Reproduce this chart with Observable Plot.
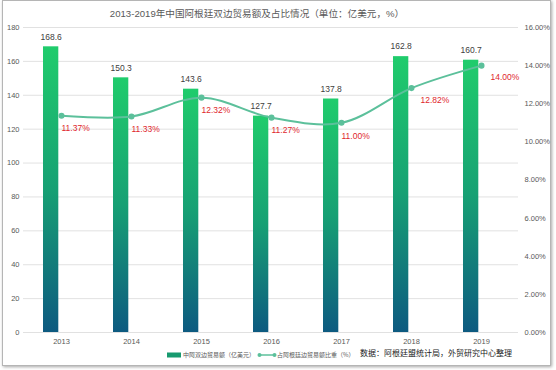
<!DOCTYPE html>
<html>
<head>
<meta charset="utf-8">
<script src="https://cdn.jsdelivr.net/npm/d3@7"></script>
<script src="https://cdn.jsdelivr.net/npm/@observablehq/plot@0.6"></script>
<style>
  html, body { margin: 0; padding: 0; background: #fff; }
  body { width: 556px; height: 370px; position: relative; overflow: hidden;
         font-family: "Liberation Sans", "Noto Sans CJK SC", sans-serif; }
  #frame { position: absolute; left: 2px; top: 0px; width: 547px; height: 364px;
           border: 1px solid #b5b5b5; box-shadow: 1px 1px 3px rgba(0,0,0,0.35); }
  #title { position: absolute; left: 0; top: 6px; width: 514px; text-align: center;
           font-size: 9.6px; color: #595959; font-family: "Liberation Sans", "Noto Sans CJK SC", sans-serif; }
  #chart { position: absolute; left: 0; top: 0; }
  #legend { position: absolute; top: 350px; left: 167px; font-size: 6px; color: #595959;
            display: flex; align-items: center; white-space: nowrap;
            font-family: "Noto Sans CJK SC", sans-serif; }
  #legend .item { display: flex; align-items: center; margin-right: 2px; }
  #source { position: absolute; top: 347px; left: 360px; font-size: 8px; color: #1a1a1a;
            font-weight: 400; font-family: "Noto Sans CJK SC", sans-serif; white-space: nowrap; }
</style>
</head>
<body>
<div id="frame"></div>
<div id="chart"></div>
<div id="title">2013-2019年中国阿根廷双边贸易额及占比情况（单位：亿美元，%）</div>
<div id="legend">
  <span class="item"><svg width="16" height="6"><rect x="0" y="0.5" width="14" height="5" fill="#179a6f"></rect></svg><span>中阿双边贸易额（亿美元）</span></span>
  <span class="item"><svg width="20" height="6"><line x1="2" y1="3" x2="18" y2="3" stroke="#5cc09b" stroke-width="1.5"></line><circle cx="2.5" cy="3" r="2" fill="#5cc09b"></circle><circle cx="17.5" cy="3" r="2" fill="#5cc09b"></circle></svg><span>占阿根廷边贸易额比重（%）</span></span>
</div>
<div id="source">数据：阿根廷盟统计局，外贸研究中心整理</div>
<script>
const years = ["2013", "2014", "2015", "2016", "2017", "2018", "2019"];
const tradeValues = [168.6, 150.3, 143.6, 127.7, 137.8, 162.8, 160.7];
const sharePct = [11.37, 11.33, 12.32, 11.27, 11.00, 12.82, 14.00];
const leftTicks = [0, 20, 40, 60, 80, 100, 120, 140, 160, 180];
const rightTicks = [0, 2, 4, 6, 8, 10, 12, 14, 16];

const LEFT_MAX = 180, RIGHT_MAX = 16;
const toLeft = p => p * LEFT_MAX / RIGHT_MAX;

const data = years.map((y, i) => ({year: y, value: tradeValues[i], pct: sharePct[i]}));

const lineColor = "#5cc09b";
const axisColor = "#595959";

const gradientDefs = () => {
  const g = d3.create("svg:defs");
  const lg = g.append("linearGradient").attr("id", "barGrad")
    .attr("x1", 0).attr("y1", 0).attr("x2", 0).attr("y2", 1);
  lg.append("stop").attr("offset", "0%").attr("stop-color", "#20cc6c");
  lg.append("stop").attr("offset", "50%").attr("stop-color", "#17a074");
  lg.append("stop").attr("offset", "100%").attr("stop-color", "#0d5a80");
  return g.node();
};

const mainLabels = data.filter(d => d.year !== "2018" && d.year !== "2019");
const endLabels = data.filter(d => d.year === "2018" || d.year === "2019");

const chart = Plot.plot({
  width: 556,
  height: 350,
  marginLeft: 23,
  marginRight: 38,
  marginTop: 27,
  marginBottom: 18,
  style: {fontFamily: "Liberation Sans, Noto Sans CJK SC, sans-serif", background: "transparent"},
  x: {type: "band", domain: years, padding: 0, label: null},
  y: {domain: [0, LEFT_MAX], label: null},
  marks: [
    gradientDefs,
    Plot.ruleY(leftTicks, {stroke: "#d9d9d9", strokeWidth: 0.8}),
    Plot.axisY(leftTicks, {anchor: "left", tickSize: 0, tickPadding: 4, fontSize: 7.5, fill: axisColor, label: null}),
    Plot.axisY(rightTicks.map(toLeft), {anchor: "right", tickSize: 0, tickPadding: 6, fontSize: 7.5, fill: axisColor, label: null,
      tickFormat: d => (d * RIGHT_MAX / LEFT_MAX).toFixed(2) + "%"}),
    Plot.axisX({anchor: "bottom", tickSize: 0, tickPadding: 6, fontSize: 7.5, fill: axisColor, label: null}),
    Plot.barY(data, {x: "year", y: "value", fill: "url(#barGrad)", insetLeft: 17, insetRight: 37.7}),
    Plot.text(data, {x: "year", y: "value", text: d => d.value.toFixed(1), dx: -10.4, dy: -10, fontSize: 8.5, fill: "#404040"}),
    Plot.line(data, {x: "year", y: d => toLeft(d.pct), curve: "catmull-rom", stroke: lineColor, strokeWidth: 2}),
    Plot.dot(data, {x: "year", y: d => toLeft(d.pct), r: 2.3, fill: lineColor, stroke: lineColor}),
    Plot.text(mainLabels, {x: "year", y: d => toLeft(d.pct), text: d => d.pct.toFixed(2) + "%", textAnchor: "start", dx: 0, dy: 13, fontSize: 8.5, fill: "#e0262c"}),
    Plot.text(endLabels, {x: "year", y: d => toLeft(d.pct), text: d => d.pct.toFixed(2) + "%", textAnchor: "start", dx: 9, dy: 12, fontSize: 8.5, fill: "#e0262c"})
  ]
});
document.getElementById("chart").appendChild(chart);
</script>
</body>
</html>
